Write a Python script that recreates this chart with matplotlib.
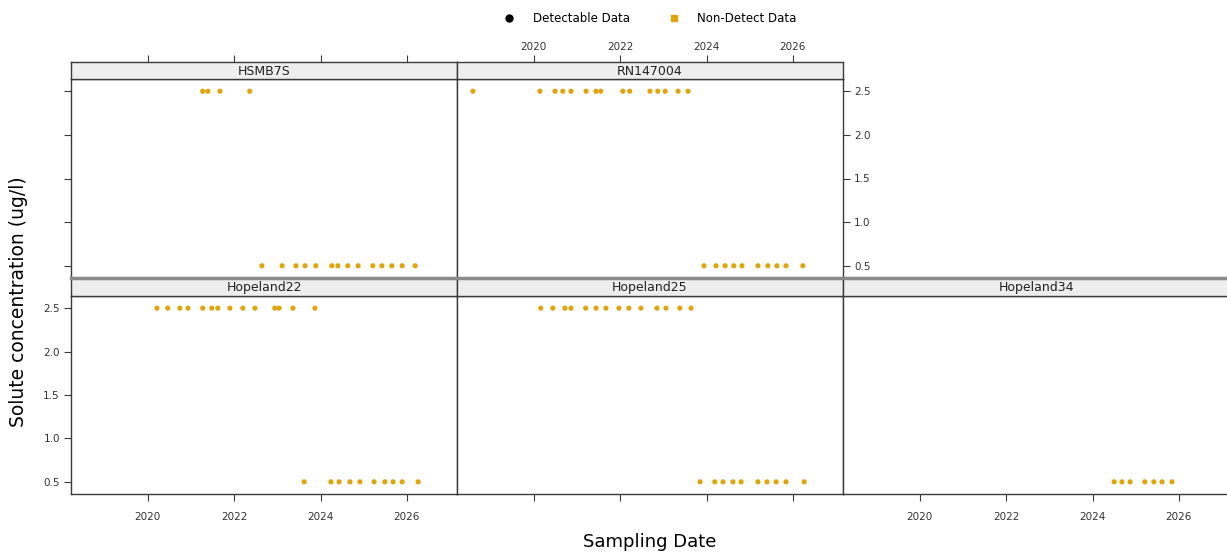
import matplotlib.pyplot as plt
from matplotlib.lines import Line2D

# Sampling dates (decimal years) and concentrations for each well; all results are non-detects
hsmb7s_date = [2021.27, 2021.39, 2021.67, 2022.36,
               2022.64, 2023.11, 2023.43, 2023.64, 2023.89, 2024.26, 2024.40,
               2024.63, 2024.87, 2025.21, 2025.42, 2025.65, 2025.89, 2026.19]
hsmb7s_conc = [2.5, 2.5, 2.5, 2.5,
               0.5, 0.5, 0.5, 0.5, 0.5, 0.5, 0.5,
               0.5, 0.5, 0.5, 0.5, 0.5, 0.5, 0.5]

rn147004_date = [2018.59, 2020.14, 2020.49, 2020.67, 2020.86, 2021.21, 2021.44, 2021.55,
                 2022.06, 2022.22, 2022.69, 2022.87, 2023.04, 2023.34, 2023.57,
                 2023.94, 2024.22, 2024.43, 2024.63, 2024.82, 2025.19, 2025.42,
                 2025.63, 2025.84, 2026.23]
rn147004_conc = [2.5, 2.5, 2.5, 2.5, 2.5, 2.5, 2.5, 2.5,
                 2.5, 2.5, 2.5, 2.5, 2.5, 2.5, 2.5,
                 0.5, 0.5, 0.5, 0.5, 0.5, 0.5, 0.5,
                 0.5, 0.5, 0.5]

hopeland22_date = [2020.21, 2020.46, 2020.74, 2020.93, 2021.27, 2021.48, 2021.62, 2021.90,
                   2022.20, 2022.48, 2022.94, 2023.04, 2023.36, 2023.87,
                   2023.62, 2024.24, 2024.43, 2024.68, 2024.91, 2025.24, 2025.49,
                   2025.68, 2025.89, 2026.26]
hopeland22_conc = [2.5, 2.5, 2.5, 2.5, 2.5, 2.5, 2.5, 2.5,
                   2.5, 2.5, 2.5, 2.5, 2.5, 2.5,
                   0.5, 0.5, 0.5, 0.5, 0.5, 0.5, 0.5,
                   0.5, 0.5, 0.5]

hopeland25_date = [2020.16, 2020.44, 2020.72, 2020.86, 2021.20, 2021.44, 2021.67, 2021.97,
                   2022.20, 2022.48, 2022.85, 2023.06, 2023.38, 2023.64,
                   2023.85, 2024.19, 2024.38, 2024.61, 2024.80, 2025.19, 2025.40,
                   2025.61, 2025.84, 2026.26]
hopeland25_conc = [2.5, 2.5, 2.5, 2.5, 2.5, 2.5, 2.5, 2.5,
                   2.5, 2.5, 2.5, 2.5, 2.5, 2.5,
                   0.5, 0.5, 0.5, 0.5, 0.5, 0.5, 0.5,
                   0.5, 0.5, 0.5]

hopeland34_date = [2024.50, 2024.68, 2024.87, 2025.21, 2025.42, 2025.61, 2025.84]
hopeland34_conc = [0.5, 0.5, 0.5, 0.5, 0.5, 0.5, 0.5]

x_ticks = [2020, 2022, 2024, 2026]
y_ticks = [0.5, 1.0, 1.5, 2.0, 2.5]
y_tick_labels = ['0.5', '1.0', '1.5', '2.0', '2.5']

ND_COLOR = '#DFA50E'
EDGE = '#3a3a3a'
XLIM = (2018.22, 2027.16)
YLIM = (0.36, 2.64)

W, H = 1227, 554
fig = plt.figure(figsize=(W / 100, H / 100), dpi=100)


def px_rect(x0, y0, x1, y1):
    # pixel box (from top-left) -> figure fraction rect
    return [x0 / W, 1 - y1 / H, (x1 - x0) / W, (y1 - y0) / H]


col_x = [(71, 457), (457, 843), (843, 1229)]
row_y = [(62, 79, 278), (278, 296, 494)]  # strip top, panel top, panel bottom

# (row, col, name, dates, conc, sides with ticks, sides with labels)
panels = [
    (0, 0, 'HSMB7S', hsmb7s_date, hsmb7s_conc, {'left', 'top'}, set()),
    (0, 1, 'RN147004', rn147004_date, rn147004_conc, {'right', 'top'}, {'right', 'top'}),
    (1, 0, 'Hopeland22', hopeland22_date, hopeland22_conc, {'left', 'bottom'}, {'left', 'bottom'}),
    (1, 1, 'Hopeland25', hopeland25_date, hopeland25_conc, {'bottom'}, set()),
    (1, 2, 'Hopeland34', hopeland34_date, hopeland34_conc, {'bottom'}, {'bottom'}),
]

tick_kw = dict(direction='out', length=5, width=0.8, color=EDGE,
               labelsize=7.5, labelcolor='#333333')

for r, c, name, dates, conc, tick_sides, label_sides in panels:
    x0, x1 = col_x[c]
    s_top, p_top, p_bot = row_y[r]

    ax = fig.add_axes(px_rect(x0, p_top, x1, p_bot))
    ax.scatter(dates, conc, s=14, color=ND_COLOR, edgecolors='none', zorder=3)
    ax.set_xlim(XLIM)
    ax.set_ylim(YLIM)
    ax.set_xticks(x_ticks)
    ax.set_yticks(y_ticks, y_tick_labels)
    for sp in ax.spines.values():
        sp.set_color(EDGE)
        sp.set_linewidth(1.0)
    ax.tick_params(axis='x', top=False, labeltop=False,
                   bottom='bottom' in tick_sides, labelbottom='bottom' in label_sides,
                   pad=8, **tick_kw)
    ax.tick_params(axis='y', left='left' in tick_sides, labelleft='left' in label_sides,
                   right='right' in tick_sides, labelright='right' in label_sides,
                   pad=3, **tick_kw)

    # strip with the well name above each panel
    sax = fig.add_axes(px_rect(x0, s_top, x1, p_top))
    sax.set_facecolor('#eeeeee')
    sax.set_xlim(XLIM)
    sax.set_yticks([])
    sax.set_xticks(x_ticks)
    for sp in sax.spines.values():
        sp.set_color(EDGE)
        sp.set_linewidth(1.0)
    if r == 1:
        sax.spines['top'].set_color('#8a8a8a')
        sax.spines['top'].set_linewidth(2.5)
    sax.tick_params(axis='x', bottom=False, labelbottom=False,
                    top='top' in tick_sides, labeltop='top' in label_sides,
                    pad=2, **tick_kw)
    sax.text(0.5, 0.45, name, transform=sax.transAxes, ha='center', va='center',
             fontsize=9, color='#222222')

# legend across the top
handles = [Line2D([], [], marker='o', ls='', color='black', markersize=5),
           Line2D([], [], marker='s', ls='', color=ND_COLOR, markersize=5)]
fig.legend(handles, ['Detectable Data', 'Non-Detect Data'], loc='center',
           bbox_to_anchor=(650 / W, 1 - 19 / H), ncol=2, frameon=False,
           fontsize=8.5, handletextpad=1.5, columnspacing=3.2, handlelength=1.0)

fig.text(650 / W, 1 - 542 / H, 'Sampling Date', ha='center', va='center', fontsize=13)
fig.text(19 / W, 1 - 302 / H, 'Solute concentration (ug/l)', ha='center', va='center',
         rotation=90, fontsize=13.5)

fig.savefig('out.png', dpi=100)
